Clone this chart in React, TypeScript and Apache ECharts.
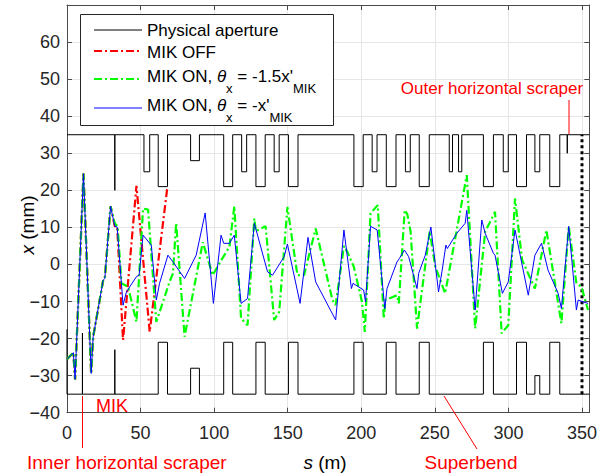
import React, { useEffect, useRef } from 'react';
import * as echarts from 'echarts';

// ---------- data (s in m, x in mm) ----------
const upperAperture: [number, number][] = [
  [0, 35], [32.5, 35], [32.5, 20], [32.5, 35], [52.3, 35], [52.3, 25], [56.2, 25], [56.2, 35],
  [62, 35], [62, 21], [68.3, 21], [68.3, 35], [84, 35], [84, 28], [90, 28], [90, 35],
  [106.5, 35], [106.5, 21], [112.6, 21], [112.6, 35], [118.7, 35], [118.7, 25], [122.1, 25], [122.1, 35],
  [128.4, 35], [128.4, 21], [134.7, 21], [134.7, 35], [140.8, 35], [140.8, 25], [144.2, 25], [144.2, 35],
  [150.5, 35], [150.5, 21], [157, 21], [157, 35], [195, 35], [195, 21], [201.3, 21], [201.3, 35],
  [207.4, 35], [207.4, 25], [210.7, 25], [210.7, 35], [217, 35], [217, 21], [223.6, 21], [223.6, 35],
  [230, 35], [230, 25], [233.3, 25], [233.3, 35], [239.4, 35], [239.4, 21], [246.2, 21], [246.2, 35],
  [259.8, 35], [259.8, 25], [262, 25], [262, 35], [266.1, 35], [266.1, 25], [268.3, 25], [268.3, 35],
  [283, 35], [283, 21], [289.8, 21], [289.8, 35], [296.5, 35], [296.5, 25], [299.9, 25], [299.9, 35],
  [305.5, 35], [305.5, 21], [312.3, 21], [312.3, 35], [318, 35], [318, 25], [321.3, 25], [321.3, 35],
  [328.1, 35], [328.1, 21], [334.9, 21], [334.9, 35], [340, 35], [340, 30], [340, 35], [355, 35],
];

const lowerAperture: [number, number][] = [
  [0, -17.5], [0, -35], [10.5, -35], [10.5, -18.5], [10.5, -35], [32.5, -35], [32.5, -23], [32.5, -35],
  [62, -35], [62, -21], [68.3, -21], [68.3, -35], [84, -35], [84, -28], [90, -28], [90, -35],
  [106.5, -35], [106.5, -21], [112.6, -21], [112.6, -35], [128.4, -35], [128.4, -21], [134.7, -21], [134.7, -35],
  [150.5, -35], [150.5, -21], [157, -21], [157, -35], [195, -35], [195, -21], [201.3, -21], [201.3, -35],
  [217, -35], [217, -21], [223.6, -21], [223.6, -35], [239.4, -35], [239.4, -21], [246.2, -21], [246.2, -35],
  [283, -35], [283, -21], [289.8, -21], [289.8, -35], [305.5, -35], [305.5, -21], [312.3, -21], [312.3, -35],
  [318, -35], [318, -30], [321.3, -30], [321.3, -35], [328.1, -35], [328.1, -21], [334.9, -21], [334.9, -35],
  [355, -35],
];

const superbendMarker: [number, number][] = [[350, -35], [350, 35]];

const mikOff: [number, number][] = [
  [0, -25.6], [4.3, -23.8], [5.5, -31], [11.2, 24.5], [16.4, -29.4], [17.8, -19.5], [24.6, -4.2],
  [25.7, -3.8], [29.6, 15.7], [32.5, 10.3], [34.1, 10.1], [38.1, -20.4], [47.2, 21.2], [56.2, -18.2],
  [68.1, 20.5],
];

const mikOn15: [number, number][] = [
  [0, -25.6], [4.3, -23.8], [5.5, -31], [11.2, 24.5], [16.4, -29.4], [17.8, -19.5], [24.6, -4.2],
  [25.7, -3.8], [29.6, 15.7], [32.5, 11], [34.4, 10.3], [37, -5.1], [41.5, -6], [47.2, -15.5],
  [51.7, 15.1], [55.1, 14.8], [60.7, -15.5], [69.7, -4.7], [72, -2.4], [74.2, 11.1], [79.9, -19.5],
  [92.3, 6], [99, -2.9], [103.6, 0.3], [110.4, 4.8], [113.7, 15.7], [118.3, -14.6], [122.7, -16.4],
  [127.3, 12.4], [128.4, 9], [135, 10.3], [140.8, -15], [144.2, -12.8], [149.8, 15.5], [156.6, -2.9],
  [161.1, -2.9], [169, 9.7], [180.4, -9.6], [182.6, -11], [188.2, 5], [190.5, 3.4], [194.9, -0.6],
  [200.5, -10.1], [202.4, -18.2], [206.3, 13.8], [211.2, 16], [215.3, -14.6], [216.4, -9.6],
  [224.3, -8.3], [225.5, -10.5], [229.5, 14.7], [231.3, 13.5], [233.5, 9], [237.9, -17.3],
  [246.5, 9], [250.3, -0.6], [257, -7.8], [271.7, 24.1], [277.4, -17.3], [284.2, 8.8], [290.9, 14.2],
  [295.4, -18.6], [299.9, -16.4], [304.5, 17.8], [309.3, 1.2], [318, -6.5], [325.8, 9.3],
  [336, -15.9], [341, 10.3], [346.2, -5.1], [349.6, -6], [354.1, -12.3],
];

const mikOn1: [number, number][] = [
  [0, -25.6], [4.3, -23.8], [5.5, -31], [11.2, 24.5], [16.4, -29.4], [17.8, -19.5], [24.6, -4.2],
  [25.7, -3.8], [29.6, 15.7], [32.5, 10.3], [34.1, 10.1], [38.1, -11], [40.4, -7.4], [47.2, -3.3],
  [49, -2.9], [51.7, 7.9], [57.3, 5.2], [60.7, -9.6], [62.9, -5.1], [68.6, 2.5], [72, 0.7],
  [79.9, -3.8], [87.8, 2.5], [93.9, 13.9], [99.5, -10.5], [104.7, 7.9], [106.5, 5.7], [110.4, 5.7],
  [113.7, 7.9], [118.3, -10.5], [122.7, -9.2], [127.3, 11.1], [136.3, -2.0], [139.7, -2.9],
  [147.6, 2.1], [149.8, 5.5], [158.4, -10.5], [163.8, 7.3], [169, -4.7], [182.6, -15], [188.2, 9.3],
  [193.3, -6.5], [194.4, -5.1], [201.6, -6.9], [202.9, -10.1], [206.3, 10.3], [210.8, 9.3],
  [216, -11.9], [217.5, -6.5], [224.3, 0.7], [225.9, 1.6], [229.3, 3.9], [232.2, 2.1], [237.9, -6.5],
  [239, -2.4], [243.5, 2.5], [247.3, 10.1], [252.5, -7.4], [254.8, -2], [257.5, 5.2], [258.5, 4.3],
  [264.9, 8.4], [270.6, 11.1], [271.7, 14.6], [277.4, -12.3], [281.9, 12], [284.2, 8.4], [289.8, 3.0],
  [290.9, 2.5], [295.9, -7.8], [299.9, -4.7], [304.5, 9.3], [313.5, -8.3], [318, 2.5], [322.5, 5.7],
  [326.9, -1.5], [333.8, -7.8], [336, -11.9], [341, 10.3], [346.2, -12.3], [347.4, -9.6],
  [350.7, -10.1], [354.1, -10.5],
];

const S_MIN = 0;
const S_MAX = 355;
const S_STEP = 50;
const X_MIN = -40;
const X_MAX = 70;
const X_STEP = 10;

const FONT = 'Liberation Sans, Arial, Helvetica, sans-serif';
const AXIS_COLOR = '#4a4a4a';
const TEXT_COLOR = '#262626';
const GRID_COLOR = '#e6e6e6';
const DASH_DOT = [8, 3, 2, 3];

export default function App() {
  const ref = useRef<HTMLDivElement>(null);

  useEffect(() => {
    document.body.style.margin = '0';
    const chart = echarts.init(ref.current!, null, { renderer: 'svg' });

    const lineSeries = (name: string, data: [number, number][], color: string, width: number, type: any, z = 2) => ({
      name,
      type: 'line',
      data,
      showSymbol: false,
      symbol: 'none',
      silent: true,
      z,
      lineStyle: { color, width, type },
      emphasis: { disabled: true },
    });

    const mainAxisLine = { show: true, onZero: false, lineStyle: { color: AXIS_COLOR, width: 1 } };
    const innerTick = { show: true, inside: true, length: 5, lineStyle: { color: AXIS_COLOR, width: 1 } };
    const fmtMinus = (v: number) => (v < 0 ? '\u2212' + Math.abs(v) : String(v));

    const legendRows = [
      { y: 30, color: '#000000', width: 1, dash: null as any },
      { y: 51, color: '#ff0000', width: 2, dash: DASH_DOT },
      { y: 79, color: '#00ff00', width: 2, dash: DASH_DOT },
      { y: 108, color: '#0000ff', width: 1, dash: null as any },
    ];

    const legendRich = {
      n: { fontSize: 17, fontFamily: FONT, color: '#000', verticalAlign: 'top', lineHeight: 17 },
      it: { fontSize: 17, fontFamily: FONT, color: '#000', fontStyle: 'italic', verticalAlign: 'top', lineHeight: 17 },
      sub: { fontSize: 13, fontFamily: FONT, color: '#000', verticalAlign: 'bottom', lineHeight: 27 },
    };

    const graphic: any[] = [
      // legend box
      { type: 'rect', z: 100, shape: { x: 80.5, y: 14.5, width: 253, height: 111 }, style: { fill: '#ffffff', stroke: '#262626', lineWidth: 1 } },
      ...legendRows.map((r) => ({
        type: 'line', z: 101,
        shape: { x1: 94, y1: r.y, x2: 142, y2: r.y },
        style: { stroke: r.color, lineWidth: r.width, lineDash: r.dash || undefined },
      })),
      { type: 'text', z: 101, x: 147, y: 30, style: { text: 'Physical aperture', fontSize: 17, fontFamily: FONT, fill: '#000', verticalAlign: 'middle' } },
      { type: 'text', z: 101, x: 147, y: 52, style: { text: 'MIK OFF', fontSize: 17, fontFamily: FONT, fill: '#000', verticalAlign: 'middle' } },
      { type: 'text', z: 101, x: 147, y: 68, style: { text: "{n|MIK ON, }{it|θ}{sub|x}{n| = -1.5x'}{sub|MIK}", rich: legendRich, verticalAlign: 'top' } },
      { type: 'text', z: 101, x: 147, y: 97, style: { text: "{n|MIK ON, }{it|θ}{sub|x}{n| = -x'}{sub|MIK}", rich: legendRich, verticalAlign: 'top' } },

      // annotations
      { type: 'text', z: 50, x: 492, y: 88, style: { text: 'Outer horizontal scraper', fontSize: 17, fontFamily: FONT, fill: '#ff0000', align: 'center', verticalAlign: 'middle' } },
      { type: 'line', z: 50, shape: { x1: 569, y1: 100, x2: 569, y2: 134 }, style: { stroke: '#ff0000', lineWidth: 1 } },
      { type: 'text', z: 50, x: 96, y: 406, style: { text: 'MIK', fontSize: 18, fontFamily: FONT, fill: '#ff0000', align: 'left', verticalAlign: 'middle' } },
      { type: 'line', z: 50, shape: { x1: 82.5, y1: 396, x2: 82.5, y2: 448 }, style: { stroke: '#ff0000', lineWidth: 1 } },
      { type: 'text', z: 50, x: 27, y: 462, style: { text: 'Inner horizontal scraper', fontSize: 19, fontFamily: FONT, fill: '#ff0000', align: 'left', verticalAlign: 'middle' } },
      { type: 'line', z: 50, shape: { x1: 444, y1: 396, x2: 477, y2: 449 }, style: { stroke: '#ff0000', lineWidth: 1 } },
      { type: 'text', z: 50, x: 471, y: 462, style: { text: 'Superbend', fontSize: 19, fontFamily: FONT, fill: '#ff0000', align: 'center', verticalAlign: 'middle' } },

      // axis titles
      {
        type: 'text', z: 50, x: 325, y: 462,
        style: {
          text: '{i|s}{n| (m)}', align: 'center', verticalAlign: 'middle',
          rich: {
            i: { fontSize: 19, fontFamily: FONT, fontStyle: 'italic', color: '#000' },
            n: { fontSize: 19, fontFamily: FONT, color: '#000' },
          },
        },
      },
      {
        type: 'text', z: 50, x: 27, y: 225, rotation: Math.PI / 2,
        style: {
          text: '{i|x}{n| (mm)}', align: 'center', verticalAlign: 'middle',
          rich: {
            i: { fontSize: 19, fontFamily: FONT, fontStyle: 'italic', color: '#000' },
            n: { fontSize: 19, fontFamily: FONT, color: '#000' },
          },
        },
      },
    ];

    const option: any = {
      animation: false,
      backgroundColor: '#ffffff',
      grid: { left: 67, right: 8.6, top: 5, bottom: 62.3, containLabel: false },
      xAxis: [
        {
          type: 'value', min: S_MIN, max: S_MAX, interval: S_STEP,
          axisLine: mainAxisLine, axisTick: innerTick,
          axisLabel: {
            show: true, margin: 11, fontSize: 18, fontFamily: FONT, color: TEXT_COLOR,
            formatter: (v: number) => (v % S_STEP === 0 ? String(v) : ''),
          },
          splitLine: { show: true, lineStyle: { color: GRID_COLOR, width: 1 } },
        },
        {
          type: 'value', position: 'top', min: S_MIN, max: S_MAX, interval: S_STEP,
          axisLine: mainAxisLine, axisTick: innerTick, axisLabel: { show: false }, splitLine: { show: false },
        },
      ],
      yAxis: [
        {
          type: 'value', min: X_MIN, max: X_MAX, interval: X_STEP,
          axisLine: mainAxisLine, axisTick: innerTick,
          axisLabel: {
            show: true, margin: 7, fontSize: 18, fontFamily: FONT, color: TEXT_COLOR,
            formatter: (v: number) => (v >= X_MAX ? '' : fmtMinus(v)),
          },
          splitLine: { show: true, lineStyle: { color: GRID_COLOR, width: 1 } },
        },
        {
          type: 'value', position: 'right', min: X_MIN, max: X_MAX, interval: X_STEP,
          axisLine: mainAxisLine, axisTick: innerTick, axisLabel: { show: false }, splitLine: { show: false },
        },
      ],
      series: [
        lineSeries('Physical aperture', upperAperture, '#000000', 1, 'solid'),
        lineSeries('Physical aperture lower', lowerAperture, '#000000', 1, 'solid'),
        lineSeries('Superbend marker', superbendMarker, '#000000', 3, [3, 3]),
        lineSeries('MIK OFF', mikOff, '#ff0000', 2.2, DASH_DOT, 3),
        lineSeries('MIK ON 1.5', mikOn15, '#00ff00', 2.2, DASH_DOT, 4),
        lineSeries('MIK ON 1', mikOn1, '#0000ff', 1, 'solid', 5),
      ],
      graphic,
    };

    chart.setOption(option);
    return () => chart.dispose();
  }, []);

  return <div ref={ref} style={{ width: 600, height: 475 }} />;
}
